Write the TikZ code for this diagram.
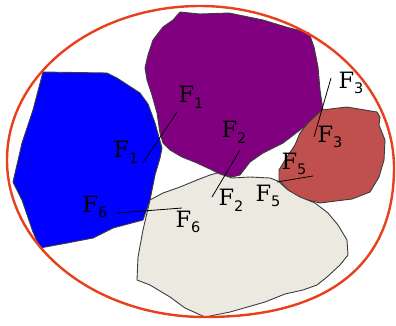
\documentclass[tikz,border=0pt]{standalone}
\usepackage{fontspec}
\setmainfont{DejaVu Serif}
\newfontfamily\subfont{DejaVu Sans}
\definecolor{ovalred}{RGB}{232,64,28}
\definecolor{grainblue}{RGB}{0,0,255}
\definecolor{grainpurple}{RGB}{128,0,128}
\definecolor{grainbrown}{RGB}{192,80,77}
\definecolor{grainbeige}{RGB}{236,234,224}
\definecolor{edgegray}{RGB}{60,60,60}
\newcommand{\lab}[1]{F\raisebox{-0.25em}{\subfont\fontsize{14.5}{14.5}\selectfont #1}}
\tikzset{
  grain/.style={draw=edgegray, line width=0.9pt, line join=round},
  oval/.style={draw=ovalred, line width=2.4pt},
  lbl/.style={inner sep=0pt, font=\fontsize{22.5}{22.5}\selectfont},
  leader/.style={draw=black, line width=0.8pt}
}
\begin{document}
\begin{tikzpicture}[x=1pt,y=-1pt]
\useasboundingbox (0,0) rectangle (396,325);
% blue grain
\fill[grainblue, grain] (43,72) -- (107,73) -- (117,78) -- (140,93) -- (148,104) -- (155,123) -- (162,148) -- (160,158) -- (155,175) -- (150,200) -- (143,220) -- (113,228) -- (93,238) -- (67,243) -- (40,248) -- (33,232) -- (22,200) -- (13,182) -- (22,143) -- (33,110) -- cycle;
% purple grain
\fill[grainpurple, grain] (180,12) -- (200,14) -- (229,13) -- (263,20) -- (286,27) -- (309,33) -- (314,47) -- (318,67) -- (320,90) -- (323,110) -- (317,117) -- (300,130) -- (283,143) -- (263,153) -- (250,162) -- (240,175) -- (232,177) -- (222,175) -- (212,170) -- (197,163) -- (182,157) -- (170,150) -- (163,143) -- (160,133) -- (157,113) -- (152,95) -- (147,80) -- (145,68) -- (148,55) -- (153,40) -- (163,27) -- (173,20) -- cycle;
% brown grain
\fill[grainbrown, grain] (322,110) -- (347,107) -- (377,112) -- (380,117) -- (379,125) -- (385,140) -- (384,160) -- (379,177) -- (370,192) -- (352,199) -- (320,203) -- (300,198) -- (288,190) -- (279,180) -- (279,170) -- (287,157) -- (295,145) -- (300,133) -- (308,123) -- cycle;
% beige grain
\fill[grainbeige, grain] (217,173) -- (232,178) -- (250,177) -- (270,178) -- (278,181) -- (288,190) -- (300,197) -- (315,203) -- (328,213) -- (338,225) -- (347,240) -- (348,255) -- (340,265) -- (327,277) -- (317,285) -- (303,290) -- (285,294) -- (265,302) -- (230,312) -- (205,317) -- (185,308) -- (170,297) -- (150,285) -- (137,280) -- (138,257) -- (143,230) -- (150,200) -- (163,193) -- (180,187) -- (197,180) -- (210,175) -- cycle;
% oval boundary
\coordinate (otop) at (200,6);
\coordinate (oright) at (394,168);
\coordinate (obottom) at (205,317);
\coordinate (oleft) at (7,160);
\draw[oval] (otop) .. controls (307,6) and (394,79) .. (oright)
  .. controls (394,265) and (328,317) .. (obottom)
  .. controls (96,317) and (7,247) .. (oleft)
  .. controls (7,75) and (93,6) .. (otop) -- cycle;
% labels
\node[lbl] (f1a) at (191,97) {\lab{1}};
\node[lbl] (f1b) at (126,152) {\lab{1}};
\node[lbl] (f2a) at (234,132) {\lab{2}};
\node[lbl] (f2b) at (231,200) {\lab{2}};
\node[lbl] (f3a) at (351,83) {\lab{3}};
\node[lbl] (f3b) at (330,137) {\lab{3}};
\node[lbl] (f5a) at (294,164) {\lab{5}};
\node[lbl] (f5b) at (268,196) {\lab{5}};
\node[lbl] (f6a) at (95,207) {\lab{6}};
\node[lbl] (f6b) at (188,222) {\lab{6}};
% leader lines
\coordinate (l1a) at (177,112); \coordinate (l1b) at (143,163);
\coordinate (l2a) at (240,150); \coordinate (l2b) at (212,197);
\coordinate (l3a) at (331,78);  \coordinate (l3b) at (314,137);
\coordinate (l5a) at (313,176); \coordinate (l5b) at (277,182);
\coordinate (l6a) at (117,213); \coordinate (l6b) at (182,208);
\draw[leader] (l1a) -- (l1b);
\draw[leader] (l2a) -- (l2b);
\draw[leader] (l3a) -- (l3b);
\draw[leader] (l5a) -- (l5b);
\draw[leader] (l6a) -- (l6b);
\end{tikzpicture}
\end{document}
